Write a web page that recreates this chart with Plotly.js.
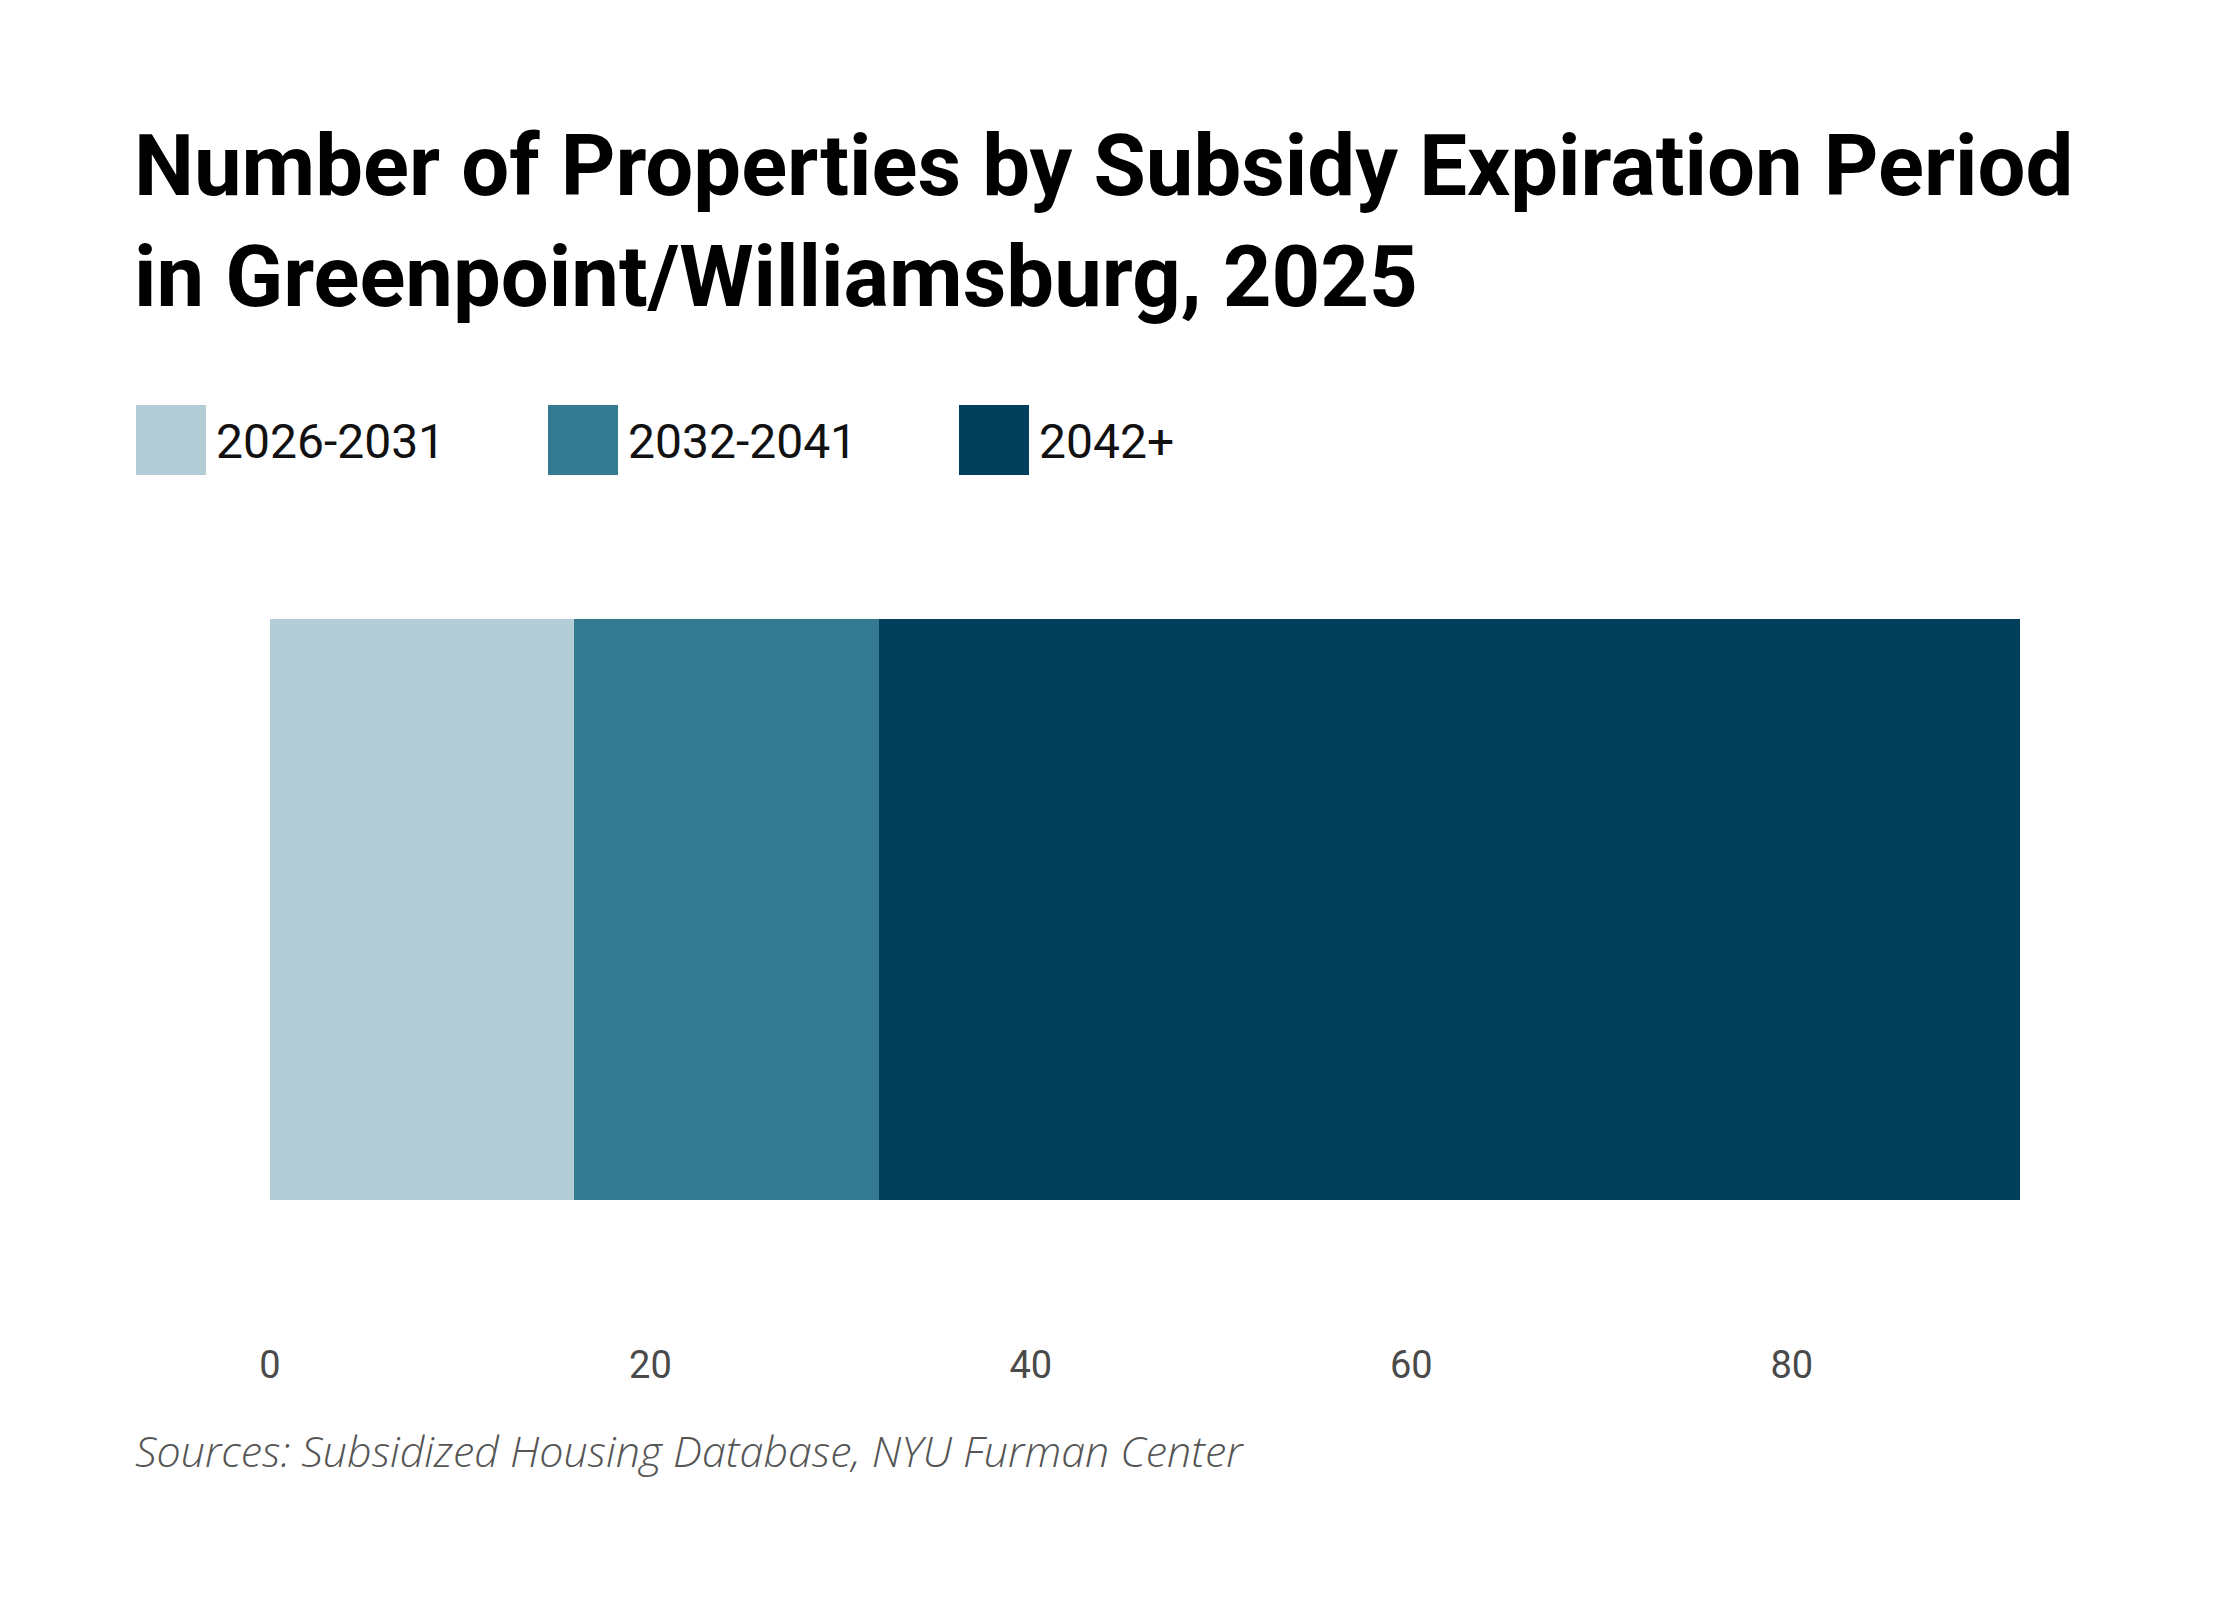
<!DOCTYPE html>
<html>
<head>
<meta charset="utf-8">
<script src="https://cdn.plot.ly/plotly-3.0.1.min.js"></script>
<style>
  html, body { margin: 0; padding: 0; background: #ffffff; }
  #chart { width: 2240px; height: 1600px; }
</style>
</head>
<body>
<div id="chart"></div>
<script>
// Subsidy expiration periods, Greenpoint/Williamsburg 2025
const area = ["Greenpoint/Williamsburg"];
const periods = ["2026-2031", "2032-2041", "2042+"];
const properties2026 = [16];
const properties2032 = [16];
const properties2042 = [60];
const xTicks = [0, 20, 40, 60, 80];

const colors = ["#b3ccd6", "#347a90", "#023f5a"];
const seriesValues = [properties2026, properties2032, properties2042];

// plot box in pixels
const W = 2240, H = 1600;
const margin = { l: 270, r: 220, t: 530, b: 311 };
const plotW = W - margin.l - margin.r;
const plotH = H - margin.t - margin.b;
const px = (x) => (x - margin.l) / plotW;
const py = (y) => (H - margin.b - y) / plotH;

const traces = periods.map((name, i) => ({
  type: "bar",
  orientation: "h",
  name: name,
  y: area,
  x: seriesValues[i],
  marker: { color: colors[i], line: { width: 0 } },
  hoverinfo: "x+name",
}));

// hand-built legend: big square swatches like the original
const legendX = [136, 548, 959];
const shapes = [];
const annotations = [];
periods.forEach((name, i) => {
  shapes.push({
    type: "rect", xref: "paper", yref: "paper",
    x0: px(legendX[i]), x1: px(legendX[i] + 70),
    y0: py(475), y1: py(405),
    fillcolor: colors[i], line: { width: 0 },
  });
  annotations.push({
    xref: "paper", yref: "paper",
    x: px(legendX[i] + 78), y: py(442),
    xanchor: "left", yanchor: "middle",
    text: name, showarrow: false,
    font: { family: "Roboto, sans-serif", size: 48, color: "#111111" },
  });
});

annotations.push({
  xref: "paper", yref: "paper",
  x: px(133), y: py(1450),
  xanchor: "left", yanchor: "middle",
  text: "Sources: Subsidized Housing Database, NYU Furman Center",
  showarrow: false,
  font: { family: "Open Sans, sans-serif", size: 43, color: "#555555", style: "italic", weight: 300 },
});

const layout = {
  width: W,
  height: H,
  margin: margin,
  paper_bgcolor: "#ffffff",
  plot_bgcolor: "#ffffff",
  barmode: "stack",
  bargap: 0.234,
  showlegend: false,
  title: {
    text: "Number of Properties by Subsidy Expiration Period<br>in Greenpoint/Williamsburg, 2025",
    xref: "container", yref: "container",
    x: 134 / W, xanchor: "left",
    y: 1 - 195 / H, yanchor: "top",
    font: { family: "Roboto, sans-serif", size: 85, color: "#000000", weight: 700 },
  },
  xaxis: {
    range: [0, 92],
    tickvals: xTicks,
    ticktext: xTicks.map(String),
    showgrid: false,
    zeroline: false,
    showline: false,
    ticks: "",
    ticklabelstandoff: 50,
    tickfont: { family: "Roboto, sans-serif", size: 38, color: "#4a4a4a" },
    fixedrange: true,
  },
  yaxis: {
    showticklabels: false,
    showgrid: false,
    zeroline: false,
    showline: false,
    ticks: "",
    fixedrange: true,
  },
  shapes: shapes,
  annotations: annotations,
};

Plotly.newPlot("chart", traces, layout, { displayModeBar: false, staticPlot: false });
</script>
</body>
</html>
